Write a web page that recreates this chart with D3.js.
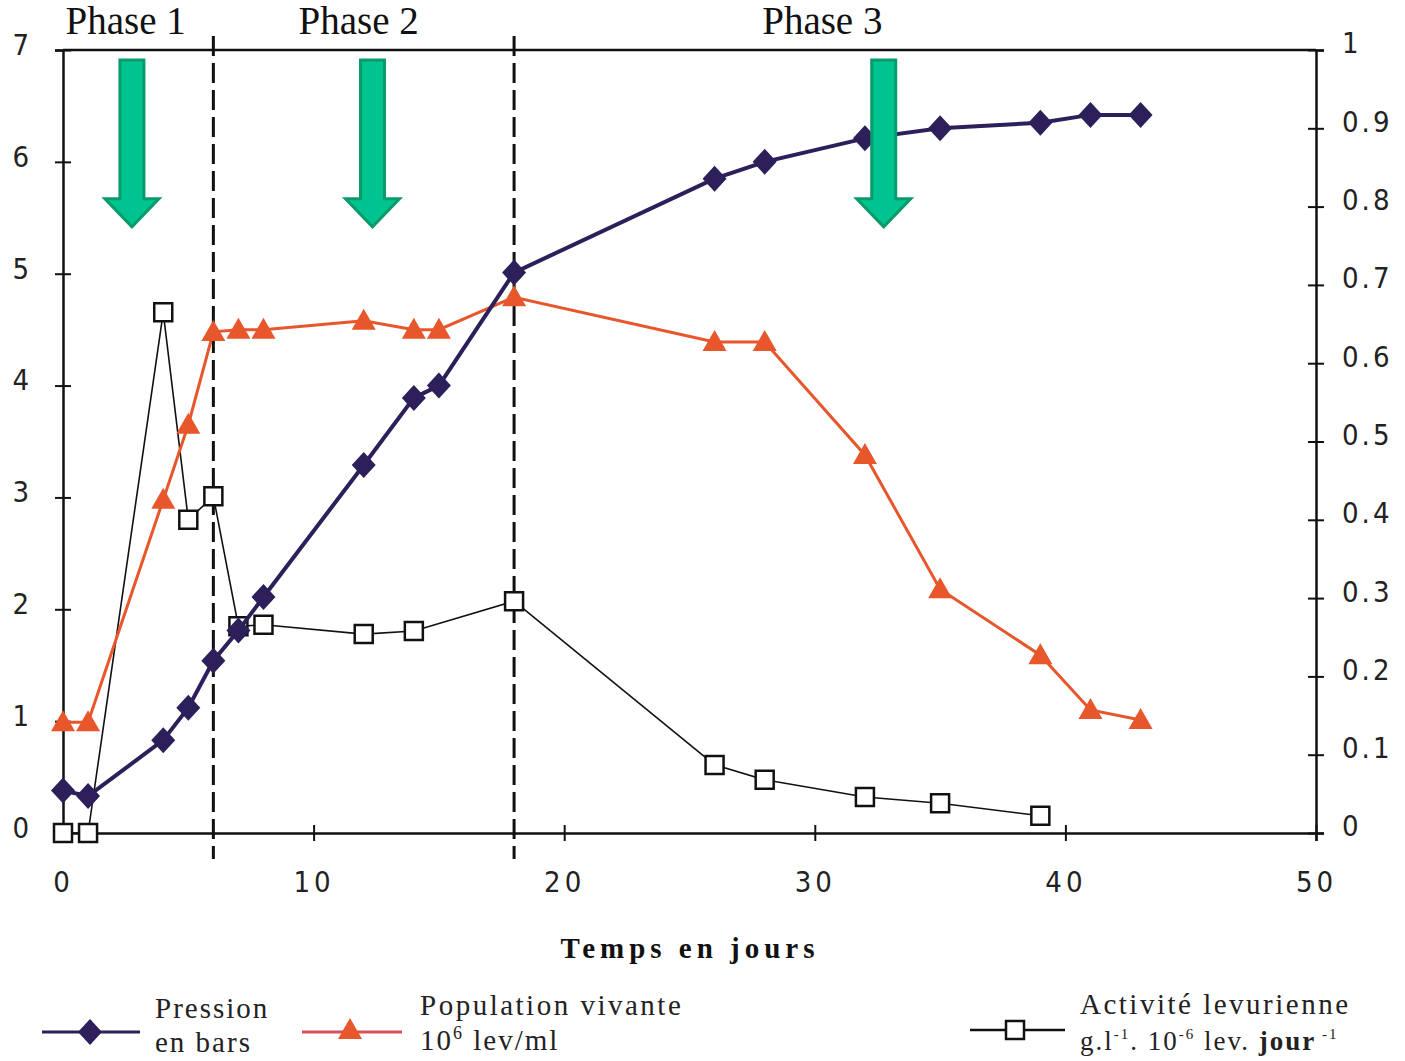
<!DOCTYPE html>
<html><head><meta charset="utf-8">
<script src="https://cdn.jsdelivr.net/npm/d3@7"></script>
<style>
body{margin:0;background:#fff;}
svg{display:block;}
.tick text{font-family:"DejaVu Sans Condensed","Liberation Sans Narrow",sans-serif;font-size:29px;fill:#222;}
</style></head>
<body>
<svg id="chart" width="1405" height="1061"></svg>
<script>
// ---- data ----
const days = [0, 1, 4, 5, 6, 7, 8, 12, 14, 15, 18, 26, 28, 32, 35, 39, 41, 43];
const pression = [0.38, 0.33, 0.83, 1.12, 1.54, 1.81, 2.11, 3.29, 3.89, 4.0, 5.01, 5.85, 6.0, 6.21, 6.3, 6.35, 6.42, 6.42];
const population = [0.99, 0.99, 2.98, 3.65, 4.48, 4.5, 4.5, 4.58, 4.5, 4.5, 4.79, 4.39, 4.39, 3.38, 2.18, 1.59, 1.1, 1.01];
const activiteDays = [0, 1, 4, 5, 6, 7, 8, 12, 14, 18, 26, 28, 32, 35, 39];
const activite = [0, 0, 0.665, 0.40, 0.43, 0.264, 0.266, 0.254, 0.258, 0.296, 0.087, 0.068, 0.046, 0.038, 0.022];
const xTicks = [0, 10, 20, 30, 40, 50];
const yLeftTicks = [0, 1, 2, 3, 4, 5, 6, 7];
const yRightTicks = [0, 0.1, 0.2, 0.3, 0.4, 0.5, 0.6, 0.7, 0.8, 0.9, 1];
const phaseBounds = [6, 18];
const phaseLabels = ["Phase 1", "Phase 2", "Phase 3"];
const phaseLabelX = [2.5, 11.8, 30.3];
const arrowX = [2.75, 12.35, 32.75];
const xTitle = "Temps en jours";

// ---- layout ----
const svg = d3.select("#chart");
const x = d3.scaleLinear().domain([0, 50]).range([63, 1316]);
const yL = d3.scaleLinear().domain([0, 7]).range([833, 50]);
const yR = d3.scaleLinear().domain([0, 1]).range([833, 50]);

const purple = "#2c1f5a", orange = "#e8562c", legendRed = "#d8505a";

// frame top line
svg.append("line").attr("x1", x(0)).attr("x2", x(50)).attr("y1", yL(7)).attr("y2", yL(7))
  .attr("stroke", "#111").attr("stroke-width", 2.5);

// axes
function styleAxis(g, orient) {
  g.select(".domain").attr("stroke", "#111").attr("stroke-width", 2.5);
  g.selectAll(".tick line").attr("stroke", "#111").attr("stroke-width", 2);
  if (orient === "v") g.selectAll(".tick line").attr("x1", -8).attr("x2", 8);
  else g.selectAll(".tick line").attr("y1", -8).attr("y2", 8);
}
const gx = svg.append("g").attr("transform", `translate(0,${yL(0)})`)
  .call(d3.axisBottom(x).tickValues(xTicks).tickSizeOuter(0).tickSize(8).tickPadding(30).tickFormat(d3.format("d")));
styleAxis(gx, "h");
gx.selectAll(".tick text").attr("letter-spacing", 4);

const gl = svg.append("g").attr("transform", `translate(${x(0)},0)`)
  .call(d3.axisLeft(yL).tickValues(yLeftTicks).tickSizeOuter(0).tickSize(8).tickPadding(26).tickFormat(d3.format("d")));
styleAxis(gl, "v");
gl.selectAll(".tick text").attr("dy", "0.15em");

const gr = svg.append("g").attr("transform", `translate(${x(50)},0)`)
  .call(d3.axisRight(yR).tickValues(yRightTicks).tickSizeOuter(0).tickSize(8).tickPadding(18)
    .tickFormat(d => d === 0 ? "0" : d === 1 ? "1" : d3.format(".1f")(d)));
styleAxis(gr, "v");
gr.selectAll(".tick text").attr("letter-spacing", 3).attr("dy", "0.1em");

// phase dashed lines
svg.selectAll(".phaseline").data(phaseBounds).enter().append("line")
  .attr("x1", d => x(d)).attr("x2", d => x(d))
  .attr("y1", yL(7) - 14).attr("y2", yL(0) + 26)
  .attr("stroke", "#111").attr("stroke-width", 3).attr("stroke-dasharray", "20,7");

// phase labels
svg.selectAll(".phaselbl").data(phaseLabels).enter().append("text")
  .attr("x", (d, i) => x(phaseLabelX[i])).attr("y", 34)
  .attr("text-anchor", "middle").attr("font-family", "Liberation Serif, serif")
  .attr("font-size", 39).attr("fill", "#111").text(d => d);

// series helpers
const diamond = "M0,-13L12,0L0,13L-12,0Z";
const triangle = "M0,-12L12,9L-12,9Z";
const square = "M-9,-9H9V9H-9Z";

// Activité (right axis)
const actData = activiteDays.map((d, i) => [d, activite[i]]);
svg.append("path").datum(actData)
  .attr("d", d3.line().x(d => x(d[0])).y(d => yR(d[1])))
  .attr("fill", "none").attr("stroke", "#111").attr("stroke-width", 1.6);
svg.selectAll(".sq").data(actData).enter().append("path")
  .attr("transform", d => `translate(${x(d[0])},${yR(d[1])})`)
  .attr("d", square).attr("fill", "#fff").attr("stroke", "#111").attr("stroke-width", 2.5);

// Population
const popData = days.map((d, i) => [d, population[i]]);
svg.append("path").datum(popData)
  .attr("d", d3.line().x(d => x(d[0])).y(d => yL(d[1])))
  .attr("fill", "none").attr("stroke", orange).attr("stroke-width", 3);
svg.selectAll(".tri").data(popData).enter().append("path")
  .attr("transform", d => `translate(${x(d[0])},${yL(d[1])})`)
  .attr("d", triangle).attr("fill", orange);

// Pression
const presData = days.map((d, i) => [d, pression[i]]);
svg.append("path").datum(presData)
  .attr("d", d3.line().x(d => x(d[0])).y(d => yL(d[1])))
  .attr("fill", "none").attr("stroke", purple).attr("stroke-width", 4);
svg.selectAll(".dia").data(presData).enter().append("path")
  .attr("transform", d => `translate(${x(d[0])},${yL(d[1])})`)
  .attr("d", diamond).attr("fill", purple);

// green arrows (annotations)
svg.selectAll(".arrow").data(arrowX).enter().append("path")
  .attr("d", d => {
    const cx = x(d), top = yL(6.91), base = yL(5.67), tip = yL(5.42);
    return `M${cx - 12},${top}H${cx + 12}V${base}H${cx + 27}L${cx},${tip}L${cx - 27},${base}H${cx - 12}Z`;
  })
  .attr("fill", "#00c48f").attr("stroke", "#0a9a6c").attr("stroke-width", 3).attr("stroke-linejoin", "miter");

// x axis title
svg.append("text").attr("x", 690).attr("y", 958).attr("text-anchor", "middle")
  .attr("font-family", "Liberation Serif, serif").attr("font-weight", "bold")
  .attr("font-size", 29).attr("letter-spacing", 5).attr("fill", "#111").text(xTitle);

// legend
const lg = svg.append("g").attr("font-family", "Liberation Serif, serif").attr("font-size", 29)
  .attr("letter-spacing", 2).attr("fill", "#222");
// pression
lg.append("line").attr("x1", 42).attr("x2", 140).attr("y1", 1032).attr("y2", 1032).attr("stroke", purple).attr("stroke-width", 3);
lg.append("path").attr("transform", "translate(90,1032)").attr("d", diamond).attr("fill", purple);
lg.append("text").attr("x", 155).attr("y", 1018).text("Pression");
lg.append("text").attr("x", 155).attr("y", 1052).text("en bars");
// population
lg.append("line").attr("x1", 302).attr("x2", 402).attr("y1", 1032).attr("y2", 1032).attr("stroke", legendRed).attr("stroke-width", 3);
lg.append("path").attr("transform", "translate(350,1030)").attr("d", triangle).attr("fill", orange);
lg.append("text").attr("x", 420).attr("y", 1015).attr("letter-spacing", 2.5).text("Population vivante");
const t2 = lg.append("text").attr("x", 420).attr("y", 1050);
t2.append("tspan").text("10");
t2.append("tspan").attr("font-size", 18).attr("dy", -11).text("6");
t2.append("tspan").attr("dy", 11).text(" lev/ml");
// activité
lg.append("line").attr("x1", 970).attr("x2", 1065).attr("y1", 1030).attr("y2", 1030).attr("stroke", "#111").attr("stroke-width", 2.5);
lg.append("path").attr("transform", "translate(1015,1030)").attr("d", square).attr("fill", "#fff").attr("stroke", "#111").attr("stroke-width", 2.5);
lg.append("text").attr("x", 1080).attr("y", 1014).attr("letter-spacing", 2.5).text("Activité levurienne");
const t3 = lg.append("text").attr("x", 1080).attr("y", 1050).attr("font-size", 27);
t3.append("tspan").text("g.l");
t3.append("tspan").attr("font-size", 15).attr("dy", -11).text("-1");
t3.append("tspan").attr("dy", 11).text(". 10");
t3.append("tspan").attr("font-size", 15).attr("dy", -11).text("-6");
t3.append("tspan").attr("dy", 11).text(" lev.  ");
t3.append("tspan").attr("font-weight", "bold").text("jour");
t3.append("tspan").attr("font-size", 15).attr("dy", -11).text(" -1");
</script>
</body></html>
